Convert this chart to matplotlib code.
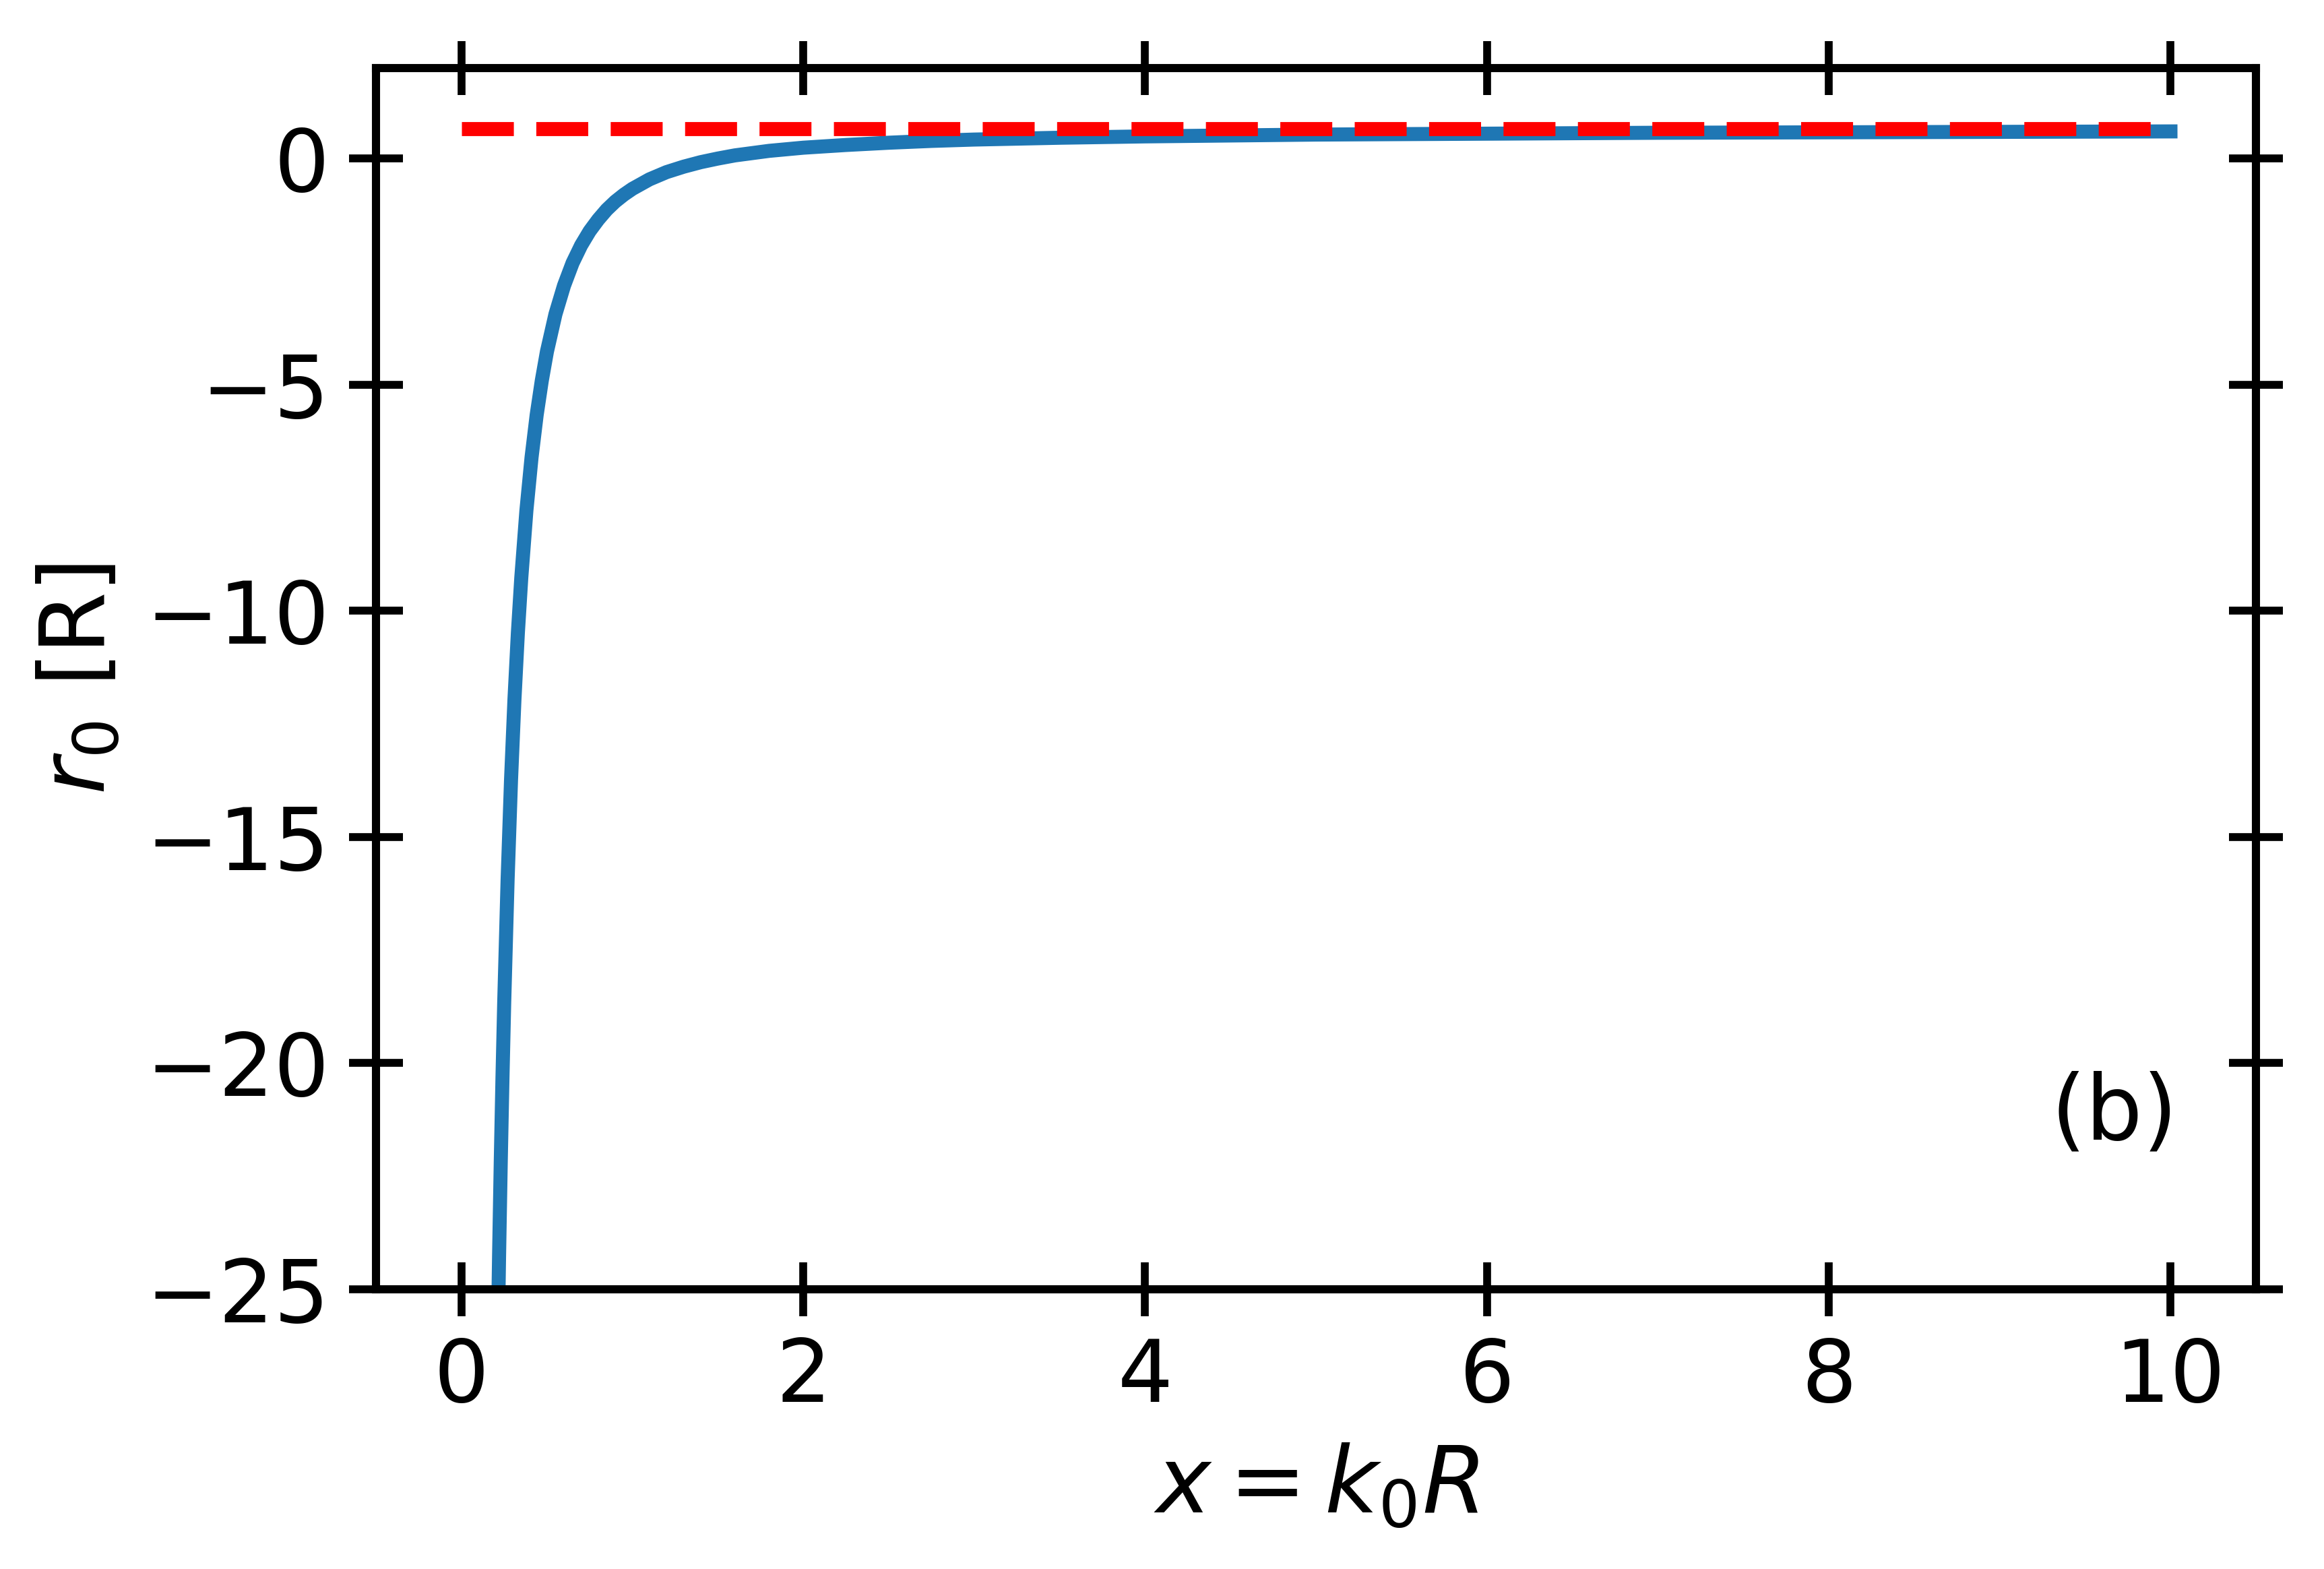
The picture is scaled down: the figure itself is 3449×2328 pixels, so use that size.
import matplotlib
matplotlib.use('Agg')
import matplotlib.pyplot as plt

# r0 curve (x = k0 R, r0 in units of R)
x_vals = [0.21, 0.22, 0.23, 0.24, 0.25, 0.27, 0.29, 0.31, 0.33, 0.35,
          0.38, 0.41, 0.44, 0.47, 0.50, 0.55, 0.60, 0.65, 0.70, 0.75,
          0.80, 0.85, 0.90, 0.95, 1.00, 1.10, 1.20, 1.30, 1.40, 1.50,
          1.60, 1.70, 1.80, 1.90, 2.00, 2.25, 2.50, 2.75, 3.00, 3.50,
          4.00, 5.00, 6.00, 7.00, 8.00, 9.00, 10.00]
r0_vals = [-26.69, -24.27, -22.16, -20.31, -18.67, -15.94, -13.74, -11.96, -10.49, -9.27,
           -7.78, -6.61, -5.67, -4.91, -4.27, -3.44, -2.81, -2.31, -1.92, -1.605,
           -1.35, -1.13, -0.95, -0.80, -0.67, -0.46, -0.30, -0.18, -0.08, 0.00,
           0.07, 0.12, 0.17, 0.205, 0.24, 0.30, 0.35, 0.39, 0.42, 0.46,
           0.49, 0.53, 0.55, 0.57, 0.58, 0.59, 0.60]

# hard sphere limit
limit_x = [0.0, 10.0]
limit_r0 = [2/3, 2/3]

xticks = [0, 2, 4, 6, 8, 10]
yticks = [0, -5, -10, -15, -20, -25]

fig = plt.figure(figsize=(3449/600, 2328/600), dpi=600)
ax = fig.add_axes([0.1618, 0.1783, 0.9707-0.1618, 0.9566-0.1783])

ax.plot(x_vals, r0_vals, color='#1f77b4', lw=2.5)
ax.plot(limit_x, limit_r0, 'r--', lw=2.5)

ax.set_ylim(-25, 2)
ax.set_xticks(xticks)
ax.set_yticks(yticks)

for s in ax.spines.values():
    s.set_linewidth(1.45)
ax.tick_params(direction='inout', length=9.6, width=1.4, labelsize=15.5,
               top=True, right=True)

ax.set_xlabel(r'$x = k_0R$', fontsize=16.5)
ax.set_ylabel(r'$r_0$ [R]', fontsize=16)
ax.text(0.891, 0.143, '(b)', transform=ax.transAxes, fontsize=16,
        ha='left', va='center')

plt.savefig('out.png', dpi=600)
